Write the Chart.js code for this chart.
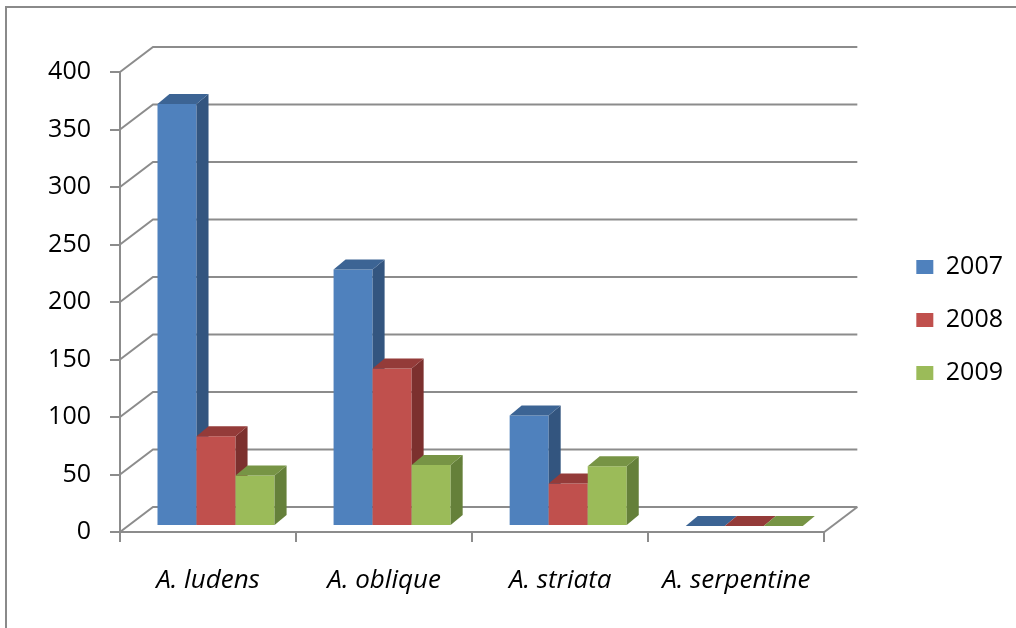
<!DOCTYPE html>
<html><head><meta charset="utf-8">
<script src="https://cdn.jsdelivr.net/npm/chart.js@4.4.1/dist/chart.umd.min.js"></script>
<style>html,body{margin:0;padding:0;background:#fff;}canvas{display:block;}</style>
</head><body>
<canvas id="c" width="1016" height="628"></canvas>
<script>
// ---- data ----
const categories = ['A. ludens', 'A. oblique', 'A. striata', 'A. serpentine'];
const seriesNames = ['2007', '2008', '2009'];
const values2007 = [367, 223, 96, 0];
const values2008 = [78, 137, 37, 0];
const values2009 = [44, 53, 52, 0];
const yMin = 0, yMax = 400, yStep = 50;

// ---- styles ----
const frontColors = ['#4F81BD', '#C0504D', '#9BBB59'];
const topColors   = ['#3C6494', '#943B39', '#779445'];
const sideColors  = ['#33557F', '#7C302E', '#65803A'];
const GRID = '#8c8c8c';
const FONT = "'Open Sans', 'Liberation Sans', sans-serif";
const DEPTH_X = 33, DEPTH_Y = -25;      // back wall offset
const BAR_SHIFT_X = 8, BAR_SHIFT_Y = -6; // bars sit a bit behind the front plane
const BAR_DX = 12, BAR_DY = -10;         // bar depth

const threeD = {
  id: 'threeD',
  beforeDraw(chart) {
    const ctx = chart.ctx;
    ctx.save();
    ctx.fillStyle = '#fff';
    ctx.fillRect(0, 0, chart.width, chart.height);
    ctx.strokeStyle = '#8a8a8a';
    ctx.lineWidth = 2;
    ctx.strokeRect(6, 7, chart.width + 50, chart.height + 50);
    ctx.restore();
  },
  beforeDatasetsDraw(chart) {
    const {ctx, chartArea: a, scales: {y}} = chart;
    ctx.save();
    ctx.strokeStyle = GRID;
    ctx.lineWidth = 2;
    y.ticks.forEach(t => {
      const py = y.getPixelForValue(t.value);
      ctx.beginPath();
      ctx.moveTo(a.left, py);
      ctx.lineTo(a.left + DEPTH_X, py + DEPTH_Y);
      ctx.lineTo(a.right + DEPTH_X, py + DEPTH_Y);
      ctx.stroke();
    });
    const p0 = y.getPixelForValue(0);
    ctx.beginPath();
    ctx.moveTo(a.right, p0);
    ctx.lineTo(a.right + DEPTH_X, p0 + DEPTH_Y);
    ctx.stroke();

    ctx.translate(BAR_SHIFT_X, BAR_SHIFT_Y);
    categories.forEach((c, i) => {
      chart.data.datasets.forEach((ds, d) => {
        const el = chart.getDatasetMeta(d).data[i];
        const {x: bx, y: by, base, width} = el.getProps(['x', 'y', 'base', 'width'], true);
        el.draw(ctx);
        const l = bx - width / 2, r = bx + width / 2;
        ctx.fillStyle = sideColors[d];
        ctx.beginPath();
        ctx.moveTo(r, by); ctx.lineTo(r + BAR_DX, by + BAR_DY);
        ctx.lineTo(r + BAR_DX, base + BAR_DY); ctx.lineTo(r, base);
        ctx.closePath(); ctx.fill();
        ctx.fillStyle = topColors[d];
        ctx.beginPath();
        ctx.moveTo(l, by); ctx.lineTo(l + BAR_DX, by + BAR_DY);
        ctx.lineTo(r + BAR_DX, by + BAR_DY); ctx.lineTo(r, by);
        ctx.closePath(); ctx.fill();
      });
    });
    ctx.restore();
    return false;
  }
};

new Chart(document.getElementById('c'), {
  type: 'bar',
  data: {
    labels: categories,
    datasets: [
      {label: seriesNames[0], data: values2007, backgroundColor: frontColors[0], borderWidth: 0},
      {label: seriesNames[1], data: values2008, backgroundColor: frontColors[1], borderWidth: 0},
      {label: seriesNames[2], data: values2009, backgroundColor: frontColors[2], borderWidth: 0}
    ]
  },
  options: {
    responsive: false,
    animation: false,
    devicePixelRatio: 1,
    datasets: {bar: {categoryPercentage: 0.665, barPercentage: 1.0}},
    layout: {padding: {left: 0, top: 12, right: 3, bottom: 0}},
    plugins: {
      tooltip: {enabled: false},
      legend: {
        position: 'right',
        labels: {
          boxWidth: 17, boxHeight: 14, padding: 28,
          color: '#000',
          font: {family: FONT, size: 25}
        }
      }
    },
    scales: {
      x: {
        offset: true,
        grid: {offset: true, drawOnChartArea: false, drawTicks: true, tickLength: 10, color: GRID, lineWidth: 2},
        border: {display: true, color: GRID, width: 2},
        ticks: {color: '#000', padding: 23, maxRotation: 0, font: {family: FONT, size: 26, style: 'italic'}},
        afterFit: s => { s.height = 96; }
      },
      xTop: {
        type: 'linear', position: 'top', display: true, min: 0, max: 1,
        ticks: {display: false}, grid: {display: false}, border: {display: false},
        afterFit: s => { s.height = 60; }
      },
      y: {
        min: yMin, max: yMax,
        ticks: {stepSize: yStep, color: '#000', padding: 19, font: {family: FONT, size: 25}},
        grid: {drawOnChartArea: false, drawTicks: true, tickLength: 10, color: GRID, lineWidth: 2},
        border: {display: true, color: GRID, width: 2},
        afterFit: s => { s.width = 120; }
      },
      yR: {
        type: 'linear', position: 'right', display: true, min: 0, max: 1,
        ticks: {display: false}, grid: {display: false}, border: {display: false},
        afterFit: s => { s.width = 64; }
      }
    }
  },
  plugins: [threeD]
});
</script>
</body></html>
